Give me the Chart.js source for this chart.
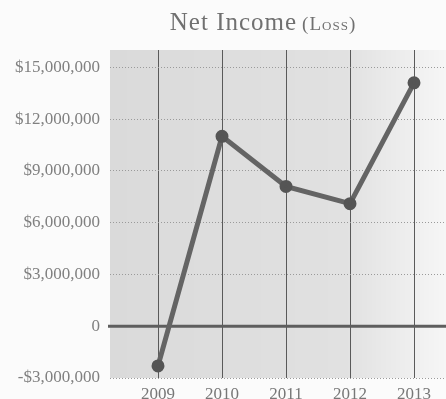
<!DOCTYPE html>
<html>
<head>
<meta charset="utf-8">
<script src="https://cdn.jsdelivr.net/npm/chart.js@4/dist/chart.umd.min.js"></script>
<style>
  body { margin: 0; background: #fbfbfb; }
  #wrap { position: relative; width: 446px; height: 399px; }
  #title {
    position: absolute; top: 8px; left: 0; width: 446px; padding-left: 80px; box-sizing: border-box;
    text-align: center; font-family: "Liberation Serif", serif; color: #707070; letter-spacing: 1px;
  }
  #title .main { font-size: 25px; }
  #title .sub { font-size: 19px; font-variant: small-caps; }
</style>
</head>
<body>
<div id="wrap">
  <canvas id="chart" width="446" height="399"></canvas>
  <div id="title"><span class="main">Net Income</span> <span class="sub">(Loss)</span></div>
</div>
<script>
// values
const years = [2009, 2010, 2011, 2012, 2013];
const netIncome = [-2300000, 11000000, 8100000, 7100000, 14100000];
const yTicks = [-3000000, 0, 3000000, 6000000, 9000000, 12000000, 15000000];

function money(v) {
  if (v === 0) return '0';
  const s = '$' + Math.abs(v).toLocaleString('en-US');
  return v < 0 ? '-' + s : s;
}

// shaded plot background + solid zero line
const backdrop = {
  id: 'backdrop',
  beforeDraw(chart) {
    const { ctx, chartArea: a } = chart;
    const g = ctx.createLinearGradient(a.left, 0, a.right, 0);
    g.addColorStop(0, 'rgba(0,0,0,0.13)');
    g.addColorStop(0.7, 'rgba(0,0,0,0.10)');
    g.addColorStop(1, 'rgba(0,0,0,0.02)');
    ctx.save();
    ctx.fillStyle = g;
    ctx.fillRect(a.left, a.top, a.right - a.left, a.bottom - a.top);
    ctx.restore();
  },
  beforeDatasetsDraw(chart) {
    const { ctx, chartArea: a } = chart;
    const y0 = chart.scales.y.getPixelForValue(0);
    ctx.save();
    ctx.strokeStyle = '#5e5e5e';
    ctx.lineWidth = 3;
    ctx.beginPath();
    ctx.moveTo(a.left - 2, y0);
    ctx.lineTo(a.right, y0);
    ctx.stroke();
    ctx.restore();
  }
};

new Chart(document.getElementById('chart').getContext('2d'), {
  type: 'line',
  data: {
    datasets: [{
      data: years.map((yr, i) => ({ x: yr, y: netIncome[i] })),
      borderColor: '#646464',
      borderWidth: 5,
      pointRadius: 4,
      pointBackgroundColor: '#555',
      pointBorderColor: '#555',
      tension: 0
    }]
  },
  options: {
    responsive: false,
    animation: false,
    layout: { autoPadding: false, padding: { top: 50, right: 0, left: 0, bottom: 0 } },
    plugins: { legend: { display: false }, tooltip: { enabled: false } },
    scales: {
      x: {
        type: 'linear',
        min: 2008.25,
        max: 2013.5,
        afterBuildTicks: s => { s.ticks = years.map(v => ({ value: v })); },
        afterFit: s => { s.height = 21; s.paddingLeft = 0; s.paddingRight = 0; },
        grid: { color: '#5a5a5a', lineWidth: 1, drawTicks: false },
        border: { display: false },
        ticks: {
          padding: 6,
          color: '#777',
          font: { family: 'Liberation Serif', size: 17 },
          callback: v => String(v)
        }
      },
      y: {
        min: -3000000,
        max: 16000000,
        afterBuildTicks: s => { s.ticks = yTicks.map(v => ({ value: v })); },
        afterFit: s => { s.width = 110; s.paddingTop = 0; s.paddingBottom = 0; },
        grid: { color: '#9a9a9a', lineWidth: 1, drawTicks: false },
        border: { display: false, dash: [1, 2] },
        ticks: {
          padding: 10,
          color: '#808080',
          font: { family: 'Liberation Serif', size: 17 },
          callback: v => money(v)
        }
      }
    }
  },
  plugins: [backdrop]
});
</script>
</body>
</html>
